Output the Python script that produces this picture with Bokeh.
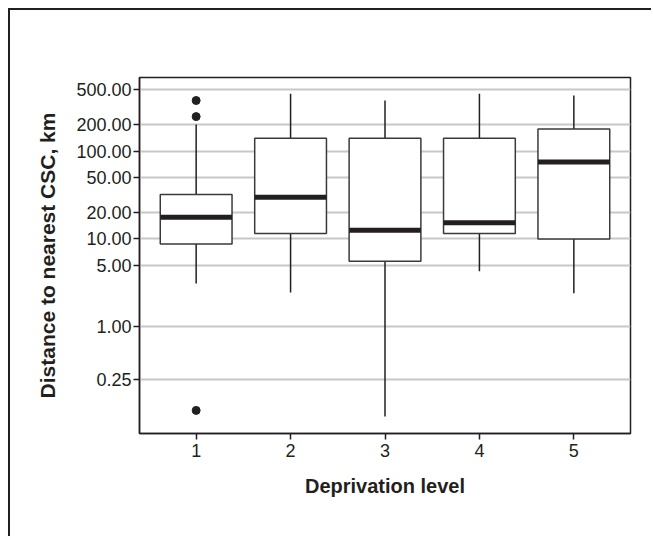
from bokeh.plotting import figure
from bokeh.models import ColumnDataSource, FixedTicker, PrintfTickFormatter, Range1d
from bokeh.embed import file_html
from bokeh.resources import INLINE

# ---- data ----
levels = [1, 2, 3, 4, 5]
q1 = [8.7, 11.5, 5.55, 11.5, 9.95]
median = [17.6, 29.8, 12.5, 15.2, 75.0]
q3 = [32.0, 140.0, 140.0, 140.0, 178.0]
lower = [3.08, 2.43, 0.094, 4.25, 2.38]
upper = [201.0, 450.0, 377.0, 450.0, 429.0]
outlier_x = [1, 1, 1]
outlier_y = [377.0, 247.0, 0.110]
y_ticks = [0.25, 1, 5, 10, 20, 50, 100, 200, 500]

BOX_W = 0.76
INK = "#231f20"
FONT = "Liberation Sans"

src = ColumnDataSource(dict(
    x=levels, q1=q1, med=median, q3=q3, lo=lower, hi=upper,
    x0=[v - BOX_W / 2 for v in levels], x1=[v + BOX_W / 2 for v in levels],
))

p = figure(width=643, height=528, y_axis_type="log",
           x_range=Range1d(0.4, 5.6), y_range=Range1d(0.060, 690),
           output_backend="svg", toolbar_location=None,
           min_border_left=129, min_border_right=23,
           min_border_top=67, min_border_bottom=105,
           styles={"border-left": "2px solid #231f20", "border-top": "2px solid #231f20",
                   "margin-left": "8px", "margin-top": "8px"})

p.background_fill_color = "white"
p.border_fill_color = "white"
p.outline_line_color = INK
p.outline_line_width = 1.5
p.outline_line_alpha = 1.0

# grid
p.xgrid.grid_line_color = None
p.ygrid.grid_line_color = "#c8c8c8"
p.ygrid.grid_line_width = 2
p.yaxis.ticker = FixedTicker(ticks=y_ticks)
p.ygrid.ticker = FixedTicker(ticks=y_ticks)
p.yaxis.formatter = PrintfTickFormatter(format="%.2f")
p.xaxis.ticker = FixedTicker(ticks=levels)

for ax in (p.xaxis[0], p.yaxis[0]):
    ax.axis_line_color = INK
    ax.axis_line_width = 1.5
    ax.major_tick_line_color = INK
    ax.major_tick_line_width = 1.5
    ax.major_tick_out = 6
    ax.major_tick_in = 0
    ax.minor_tick_line_color = None
    ax.major_label_text_font = FONT
    ax.major_label_text_font_size = "18px"
    ax.major_label_text_color = INK
    ax.axis_label_text_font = FONT
    ax.axis_label_text_font_style = "bold"
    ax.axis_label_text_color = INK

p.xaxis.axis_label_text_font_size = "20px"
p.yaxis.axis_label_text_font_size = "21px"
p.xaxis.axis_label = "Deprivation level"
p.yaxis.axis_label = "Distance to nearest CSC, km"
p.xaxis.major_label_standoff = 4
p.xaxis.axis_label_standoff = 15
p.yaxis.major_label_standoff = 2
p.yaxis.axis_label_standoff = 14

# whiskers
p.segment(x0="x", x1="x", y0="q3", y1="hi", source=src, line_color=INK, line_width=1.5)
p.segment(x0="x", x1="x", y0="lo", y1="q1", source=src, line_color=INK, line_width=1.5)
# boxes
p.vbar(x="x", width=BOX_W, bottom="q1", top="q3", source=src,
       fill_color="white", line_color="#3a3a3a", line_width=1.5)
# medians
p.segment(x0="x0", x1="x1", y0="med", y1="med", source=src, line_color=INK, line_width=5)
# outliers
p.scatter(outlier_x, outlier_y, size=8, color=INK)

open("out.html", "w").write(file_html(p, INLINE))
